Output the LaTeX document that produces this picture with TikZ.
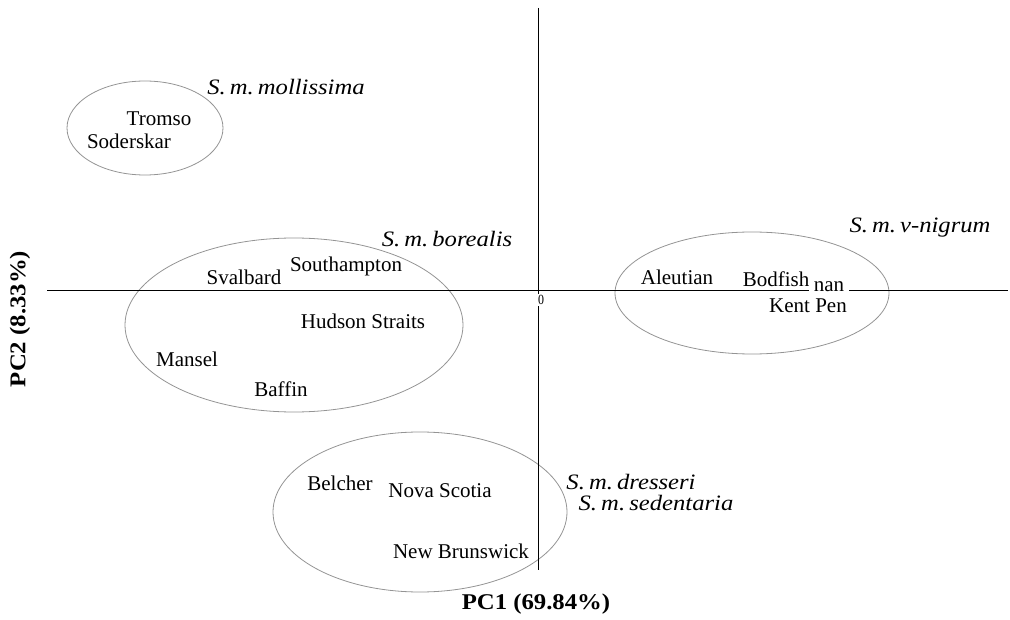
\documentclass[tikz,border=0pt]{standalone}
\usepackage{fontspec}
\setmainfont{Liberation Serif}
\usetikzlibrary{shapes.geometric}
\newcommand{\wide}[2]{\scalebox{#1}[1]{#2}}
\begin{document}
\begin{tikzpicture}[x=1pt,y=-1pt,
  lbl/.style={inner sep=0pt, font=\fontsize{21}{23}\selectfont},
  sub/.style={inner sep=0pt, font=\fontsize{22}{24}\selectfont\itshape},
  axlbl/.style={inner sep=0pt, font=\fontsize{22.5}{24}\selectfont\bfseries},
  group/.style={ellipse, draw=black!42, line width=0.8pt, inner sep=0pt},
  axis/.style={draw=black, line width=1pt}]
\useasboundingbox (0,0) rectangle (1010,620);
% group ellipses
\node[group, minimum width=156, minimum height=94] (gmol) at (145,128) {};
\node[group, minimum width=338, minimum height=174] (gbor) at (294,325) {};
\node[group, minimum width=274, minimum height=122] (gvn) at (752,293) {};
\node[group, minimum width=294, minimum height=160] (gdre) at (420,512) {};
% axes
\coordinate (xl) at (47,291);
\coordinate (xr) at (1008,291);
\coordinate (yt) at (538,8);
\coordinate (yb) at (538,570);
\draw[axis] (xl) -- (xr);
\draw[axis] (yt) -- (yb);
\node[inner sep=1.5pt, fill=white, font=\fontsize{14}{15}\selectfont] (orig) at (541,300) {\wide{0.85}{0}};
% labels
\node[sub] (smol) at (286,87) {\wide{1.12}{S.\,m.\,mollissima}};
\node[lbl] (tromso) at (159,119) {Tromso};
\node[lbl] (soder) at (129,141) {Soderskar};
\node[sub] (sbor) at (447,239) {\wide{1.12}{S.\,m.\,borealis}};
\node[lbl] (sval) at (244,277) {Svalbard};
\node[lbl] (south) at (346,266) {Southampton};
\node[lbl] (hudson) at (363,321) {Hudson Straits};
\node[lbl] (mansel) at (187,359) {Mansel};
\node[lbl] (baffin) at (281,389) {Baffin};
\node[sub] (svn) at (920,228) {\wide{1.12}{S.\,m.\,v-nigrum}};
\node[lbl] (aleut) at (677,277) {Aleutian};
\node[lbl, fill=white, minimum width=40pt, minimum height=14pt] (nan) at (829,287) {nan};
\node[lbl, fill=white, inner sep=1pt] (bodf) at (776,279) {Bodfish};
\node[lbl] (kent) at (808,306) {Kent Pen};
\node[sub] (sdre) at (631,482) {\wide{1.12}{S.\,m.\,dresseri}};
\node[sub] (ssed) at (656,503) {\wide{1.12}{S.\,m.\,sedentaria}};
\node[lbl] (belch) at (340,483) {Belcher};
\node[lbl] (nova) at (440,491) {Nova Scotia};
\node[lbl] (newb) at (461,551) {New Brunswick};
\node[axlbl] (pc1) at (536,604) {\wide{1.1}{PC1 (69.84\%)}};
\node[axlbl, rotate=90] (pc2) at (20,319) {\wide{1.1}{PC2 (8.33\%)}};
\end{tikzpicture}
\end{document}
